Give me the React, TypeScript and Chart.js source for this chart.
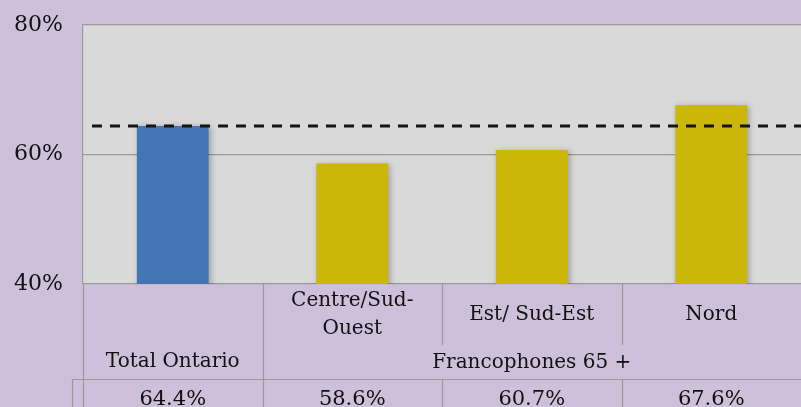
import React, { useEffect, useRef } from "react";
import { Chart, registerables } from "chart.js";

Chart.register(...registerables);

const categories = ["Total Ontario", "Centre/Sud-\nOuest", "Est/ Sud-Est", "Nord"];
const categoryGroups = ["", "Francophones 65 +", "Francophones 65 +", "Francophones 65 +"];
const values = [64.4, 58.6, 60.7, 67.6];
const referenceValue = 64.4;
const barColors = ["#4475B4", "#CBB60A", "#CBB60A", "#CBB60A"];
const yTicks = [40, 60, 80];

const FONT = "'DejaVu Serif', serif";
const LINE = "#9A9A9A";

const bgPlugin = {
  id: "bg",
  beforeDraw(chart: any) {
    const { ctx, chartArea: a, width, height } = chart;
    ctx.save();
    ctx.fillStyle = "#CEC0DA";
    ctx.fillRect(0, 0, width, height);
    ctx.fillStyle = "#D9D9D9";
    ctx.fillRect(a.left, a.top, a.right - a.left, a.bottom - a.top);
    ctx.restore();
  },
  beforeDatasetsDraw(chart: any) {
    const ctx = chart.ctx;
    ctx.save();
    ctx.shadowColor = "rgba(0,0,0,0.28)";
    ctx.shadowBlur = 6;
    ctx.shadowOffsetX = 2;
    ctx.shadowOffsetY = 1;
  },
  afterDatasetsDraw(chart: any) {
    const { ctx, chartArea: a, scales } = chart;
    ctx.restore();
    // dashed reference line
    const y = scales.y.getPixelForValue(referenceValue);
    ctx.save();
    ctx.strokeStyle = "#151515";
    ctx.lineWidth = 3;
    ctx.setLineDash([10, 8]);
    ctx.beginPath();
    ctx.moveTo(a.left + 9, y);
    ctx.lineTo(chart.width, y);
    ctx.stroke();
    ctx.restore();
  },
  afterDraw(chart: any) {
    const { ctx, chartArea: a, scales, width, height } = chart;
    const x = scales.x;
    const half = (x.getPixelForValue(1) - x.getPixelForValue(0)) / 2;
    const top = a.bottom;
    const subBottom = top + 61;
    const headBottom = top + 95;
    ctx.save();
    ctx.strokeStyle = LINE;
    ctx.lineWidth = 1.2;
    const vline = (px: number, y1: number, y2: number) => {
      ctx.beginPath();
      ctx.moveTo(Math.round(px) + 0.5, y1);
      ctx.lineTo(Math.round(px) + 0.5, y2);
      ctx.stroke();
    };
    vline(a.left, top, height);
    for (let i = 1; i < categories.length; i++) {
      const b = x.getPixelForValue(i) - half;
      if (categoryGroups[i] !== categoryGroups[i - 1]) vline(b, top, height);
      else {
        vline(b, top, subBottom);
        vline(b, headBottom, height);
      }
    }
    vline(a.left - 11, headBottom, height);
    ctx.beginPath();
    ctx.moveTo(a.left - 11, headBottom + 0.5);
    ctx.lineTo(width, headBottom + 0.5);
    ctx.stroke();

    ctx.fillStyle = "#111";
    ctx.textAlign = "center";
    ctx.textBaseline = "middle";
    ctx.font = `20px ${FONT}`;
    categories.forEach((c, i) => {
      const cx = x.getPixelForValue(i);
      const lines = c.split("\n");
      if (!categoryGroups[i]) {
        ctx.fillText(lines[0], cx, top + 78);
      } else {
        const mid = (top + subBottom) / 2;
        const lh = 28;
        lines.forEach((l, k) => {
          ctx.fillText(l, cx, mid + (k - (lines.length - 1) / 2) * lh);
        });
      }
    });
    // group label
    const groups: { name: string; s: number; e: number }[] = [];
    categoryGroups.forEach((g, i) => {
      if (!g) return;
      const last = groups[groups.length - 1];
      if (last && last.name === g) last.e = i;
      else groups.push({ name: g, s: i, e: i });
    });
    groups.forEach((g) => {
      const l = x.getPixelForValue(g.s) - half;
      const r = Math.min(x.getPixelForValue(g.e) + half, width);
      ctx.fillText(g.name, (l + r) / 2, top + 79);
    });
    ctx.font = `21px ${FONT}`;
    values.forEach((v, i) => {
      ctx.fillText(v.toFixed(1) + "%", x.getPixelForValue(i), headBottom + 21);
    });
    ctx.restore();
  },
};

export default function App() {
  const ref = useRef<HTMLCanvasElement | null>(null);
  useEffect(() => {
    document.body.style.margin = "0";
    const chart = new Chart(ref.current as HTMLCanvasElement, {
      type: "bar",
      data: {
        labels: categories,
        datasets: [
          {
            data: values,
            backgroundColor: barColors,
            borderWidth: 0,
            barPercentage: 0.4,
            categoryPercentage: 1,
          },
        ],
      },
      options: {
        animation: false,
        responsive: false,
        layout: { padding: { top: 0, bottom: 123, left: 0, right: 0 } },
        plugins: { legend: { display: false }, tooltip: { enabled: false } },
        scales: {
          x: { display: false },
          y: {
            min: yTicks[0],
            max: yTicks[yTicks.length - 1],
            afterBuildTicks: (s: any) => {
              s.ticks = yTicks.map((v) => ({ value: v }));
            },
            afterFit: (s: any) => {
              s.width = 83;
              s.paddingTop = 25;
            },
            ticks: {
              callback: (v: any) => v + "%",
              color: "#111",
              font: { family: FONT, size: 22 },
              padding: 20,
            },
            grid: { color: LINE, lineWidth: 1.2, drawTicks: false },
            border: { color: LINE, width: 1.2 },
          },
        },
      },
      plugins: [bgPlugin],
    });
    return () => chart.destroy();
  }, []);
  return (
    <div style={{ position: "fixed", left: 0, top: 0, width: 801, height: 407 }}>
      <canvas ref={ref} width={801} height={407} style={{ display: "block" }} />
    </div>
  );
}
